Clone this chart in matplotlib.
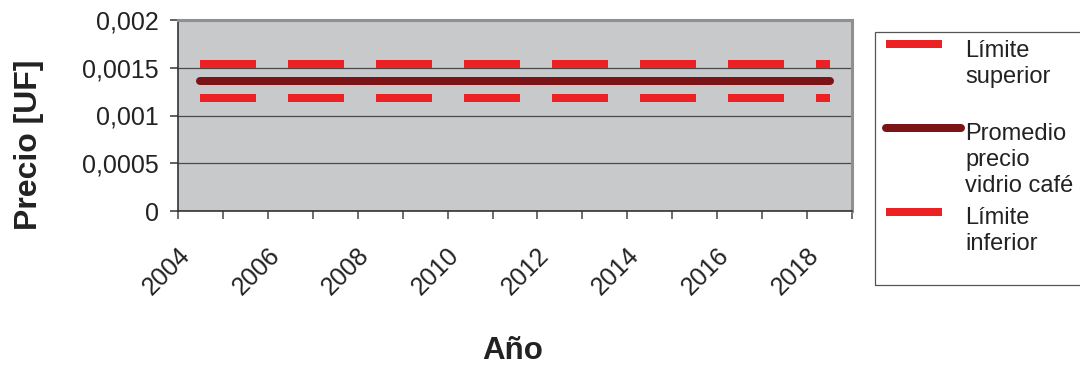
import matplotlib
matplotlib.use("Agg")
import matplotlib.pyplot as plt
from matplotlib.lines import Line2D
from matplotlib.patches import Rectangle
from matplotlib.transforms import ScaledTranslation

plt.rcParams['font.family'] = ['Liberation Sans', 'DejaVu Sans']

years = list(range(2004, 2019))
limite_superior = [0.00154] * 15
promedio = [0.00136] * 15
limite_inferior = [0.00118] * 15
ytick_vals = [0, 0.0005, 0.001, 0.0015, 0.002]
ytick_labels = ["0", "0,0005", "0,001", "0,0015", "0,002"]
xtick_labels = [str(y) for y in years[::2]]
series_labels = [["Límite", "superior"], ["Promedio", "precio", "vidrio café"], ["Límite", "inferior"]]

RED = "#ED2024"
DARK = "#7B1416"
W, H = 1080, 368

fig = plt.figure(figsize=(W / 100, H / 100), dpi=100)
ax = fig.add_axes([178 / W, 1 - 211 / H, (852 - 178) / W, (211 - 20) / H])
ax.set_facecolor("#C8C9CB")

pos = list(range(len(years)))
lw = 5.76
l1, = ax.plot(pos, limite_superior, color=RED, lw=lw, dash_capstyle="butt")
l1.set_dashes((7, 4))
ax.plot(pos, promedio, color=DARK, lw=lw, solid_capstyle="round")
l3, = ax.plot(pos, limite_inferior, color=RED, lw=lw, dash_capstyle="butt")
l3.set_dashes((7, 4))

ax.set_xlim(-0.5, len(years) - 0.5)
ax.set_ylim(0, 0.002)
ax.set_yticks(ytick_vals)
ax.set_yticklabels(ytick_labels, fontsize=18, color="#222222")
ax.yaxis.grid(True, color="#4a4a4a", lw=0.9)
ax.set_axisbelow(True)

ax.set_xticks([p + 0.5 for p in [-1] + pos], minor=False)
ax.set_xticklabels([])
ax.set_xticks(pos[::2], minor=True)
ax.set_xticklabels(xtick_labels, minor=True, rotation=45, ha="right",
                   rotation_mode="anchor", fontsize=18, color="#222222")
ax.tick_params(axis="x", which="minor", length=0, pad=23)
ax.tick_params(axis="x", which="major", length=5.8, width=1.2, color="#555555")
ax.tick_params(axis="y", length=5.8, width=1.2, color="#444444", pad=8)
shift = ScaledTranslation(-23 / 100, 0, fig.dpi_scale_trans)
for lab in ax.get_xticklabels(minor=True):
    lab.set_transform(lab.get_transform() + shift)

for s in ["top", "right"]:
    ax.spines[s].set_color("#909092")
    ax.spines[s].set_linewidth(2.2)
for s in ["left", "bottom"]:
    ax.spines[s].set_color("#333333")
    ax.spines[s].set_linewidth(1.2)

def fx(x):
    return x / W

def fy(y):
    return 1 - y / H

fig.text(fx(29), fy(145), "Precio [UF]", rotation=90, fontsize=23, fontweight="bold",
         ha="center", va="center", color="#222222")
fig.text(fx(513), fy(351), "Año", fontsize=22.5, fontweight="bold",
         ha="center", va="center", color="#222222")

# legend
fig.add_artist(Rectangle((fx(875), fy(285)), fx(1090) - fx(875), fy(32) - fy(285),
                         transform=fig.transFigure, fill=False, edgecolor="#555555",
                         lw=0.9, clip_on=False))
handles = [(886, 942, 44, RED, "butt"), (886, 961, 128, DARK, "round"), (886, 942, 212, RED, "butt")]
text_base = [57, 139.5, 224]
for (x0, x1, y, c, cap), lab, b in zip(handles, series_labels, text_base):
    fig.add_artist(Line2D([fx(x0), fx(x1)], [fy(y), fy(y)], transform=fig.transFigure,
                          color=c, lw=lw, solid_capstyle=cap))
    for i, line in enumerate(lab):
        fig.text(fx(965), fy(b + 26.5 * i), line, fontsize=17, color="#222222",
                 ha="left", va="baseline")

fig.savefig("out.png", dpi=100)
